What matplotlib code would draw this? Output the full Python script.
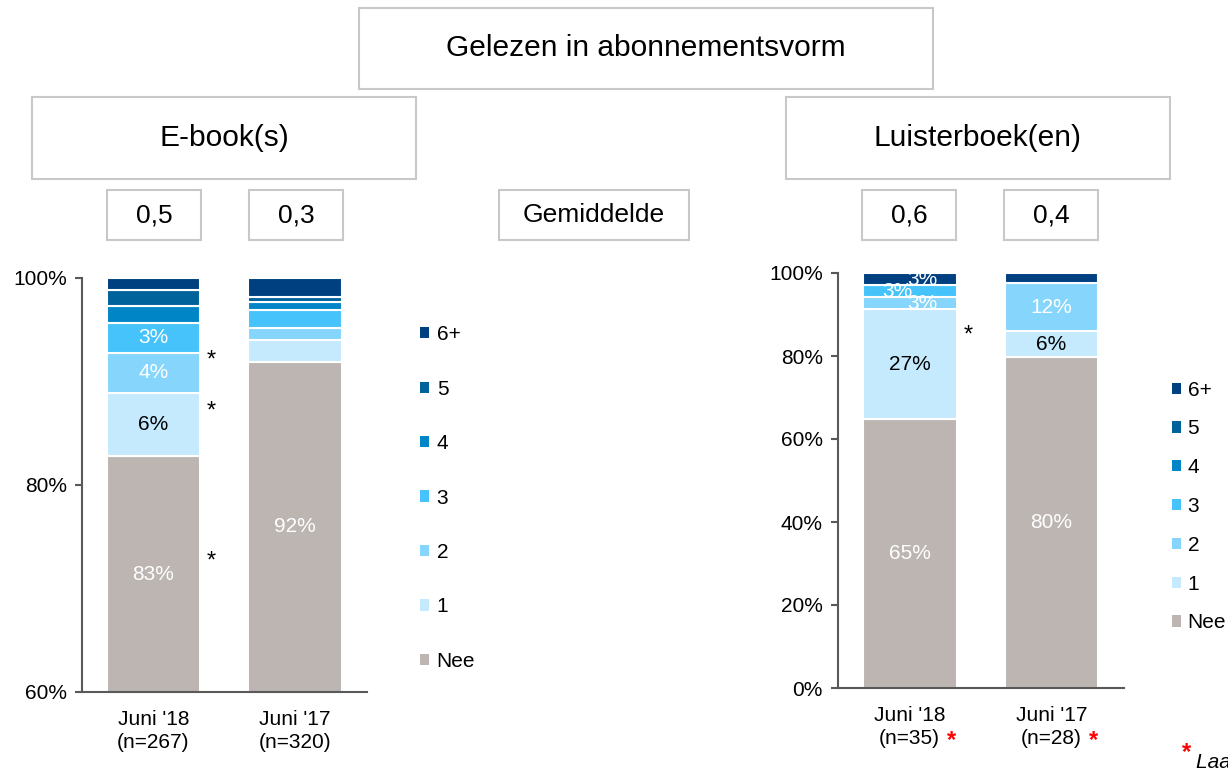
import matplotlib
matplotlib.use("Agg")
import matplotlib.pyplot as plt
from matplotlib.patches import Rectangle, Patch

plt.rcParams['font.family'] = ['Liberation Sans', 'DejaVu Sans']

# data (bottom -> top: Nee, 1, 2, 3, 4, 5, 6+)
series = ['Nee', '1', '2', '3', '4', '5', '6+']
colors = ['#bcb5b2', '#c5eafd', '#86d5fc', '#45c3fa', '#0086c6', '#00629b', '#003f80']
label_colors = ['white', 'black', 'white', 'white', 'white', 'white', 'white']

ebook_cats = ["Juni '18\n(n=267)", "Juni '17\n(n=320)"]
ebook_jun18 = [82.8, 6.1, 3.9, 2.9, 1.6, 1.5, 1.2]
ebook_jun17 = [91.9, 2.1, 1.2, 1.7, 0.8, 0.5, 1.8]
ebook_avg = ['0,5', '0,3']
ebook_sig = [[0, 1, 2], []]   # segments with * next to them

luister_cats = ["Juni '18\n(n=35)", "Juni '17\n(n=28)"]
luister_jun18 = [64.7, 26.6, 2.9, 2.9, 0, 0, 2.9]
luister_jun17 = [79.7, 6.3, 11.6, 0, 0, 0, 2.4]
luister_avg = ['0,6', '0,4']
luister_sig = [[1], []]

W, H = 1228, 768
fig = plt.figure(figsize=(W / 100, H / 100), dpi=100)


def box(x0, y0, x1, y1, text, size):
    r = Rectangle((x0 / W, 1 - y1 / H), (x1 - x0) / W, (y1 - y0) / H,
                  transform=fig.transFigure, fill=False, edgecolor='#c8c8c8', lw=1.5)
    fig.add_artist(r)
    fig.text((x0 + x1) / 2 / W, 1 - (y0 + y1) / 2 / H, text, ha='center', va='center',
             fontsize=size, color='black')


box(359, 8, 933, 89, 'Gelezen in abonnementsvorm', 21.5)
box(32, 97, 416, 179, 'E-book(s)', 21.5)
box(786, 97, 1170, 179, 'Luisterboek(en)', 21.5)
box(107, 190, 201, 240, ebook_avg[0], 19)
box(249, 190, 343, 240, ebook_avg[1], 19)
box(499, 190, 689, 240, 'Gemiddelde', 19)
box(862, 190, 956, 240, luister_avg[0], 19)
box(1004, 190, 1098, 240, luister_avg[1], 19)


def panel(ax, bars, cats, ylim, yticks, sig, star_dy, nudge=None):
    x = range(len(bars))
    for xi, vals in zip(x, bars):
        bottom = 0
        for si, v in enumerate(vals):
            if v > 0:
                ax.bar(xi, v, bottom=bottom, width=0.66, color=colors[si],
                       edgecolor='white', linewidth=1.5)
            lo = max(bottom, ylim[0])
            yc = (lo + bottom + v) / 2
            if v >= 2.5:
                dx = 0
                if nudge and (xi, si) in nudge:
                    dx = nudge[(xi, si)]
                ax.text(xi + dx, yc, f'{v:.0f}%', ha='center', va='center',
                        fontsize=15, color=label_colors[si])
            if si in sig[xi]:
                ax.annotate('*', xy=(xi + 0.33, yc), xytext=(5, star_dy),
                            textcoords='offset points', ha='left', va='center',
                            fontsize=17, color='black', annotation_clip=False)
            bottom += v
    ax.set_ylim(*ylim)
    ax.set_yticks(yticks)
    ax.set_yticklabels([f'{t}%' for t in yticks])
    ax.set_xticks(list(x))
    ax.set_xticklabels(cats, fontsize=15, linespacing=1.25)
    ax.set_xlim(-0.505, 1.51)
    for s in ['top', 'right']:
        ax.spines[s].set_visible(False)
    for s in ['left', 'bottom']:
        ax.spines[s].set_color('#595959')
        ax.spines[s].set_linewidth(1.5)
    ax.tick_params(axis='y', labelsize=15, length=5, width=1.5, color='#595959', pad=6)
    ax.tick_params(axis='x', length=0, pad=13)


ax1 = fig.add_axes([82 / W, 1 - 692 / H, (367 - 82) / W, (692 - 278) / H])
panel(ax1, [ebook_jun18, ebook_jun17], ebook_cats, (60, 100), [60, 80, 100], ebook_sig, 9)

ax2 = fig.add_axes([838 / W, 1 - 688 / H, (1124 - 838) / W, (688 - 273) / H])
panel(ax2, [luister_jun18, luister_jun17], luister_cats, (0, 100), [0, 20, 40, 60, 80, 100],
      luister_sig, 21, nudge={(0, 2): 0.09, (0, 3): -0.09, (0, 6): 0.09})

# red asterisks for small samples
for xi in range(2):
    ax2.annotate('*', xy=(xi, 0), xycoords=('data', 'axes fraction'), xytext=(27, -38),
                 textcoords='offset points', ha='left', va='center', fontsize=17,
                 color='red', fontweight='bold', annotation_clip=False)

handles = [Patch(facecolor=c, edgecolor='none', label=s) for c, s in zip(colors, series)][::-1]
fig.legend(handles=handles, loc='center left', bbox_to_anchor=(420 / W, 1 - 498 / H),
           frameon=False, fontsize=15, handlelength=0.45, handleheight=0.45,
           handletextpad=0.35, labelspacing=1.7, borderpad=0, borderaxespad=0)
fig.legend(handles=handles, loc='center left', bbox_to_anchor=(1172 / W, 1 - 506.5 / H),
           frameon=False, fontsize=15, handlelength=0.45, handleheight=0.45,
           handletextpad=0.3, labelspacing=0.95, borderpad=0, borderaxespad=0)

fig.text(1182 / W, 0.012, '*', color='red', fontsize=17, fontweight='bold', va='baseline')
fig.text(1196 / W, 0.0, 'Laag aantal waarnemingen', fontsize=15, style='italic',
         va='baseline')

fig.savefig('out.png', dpi=100)
